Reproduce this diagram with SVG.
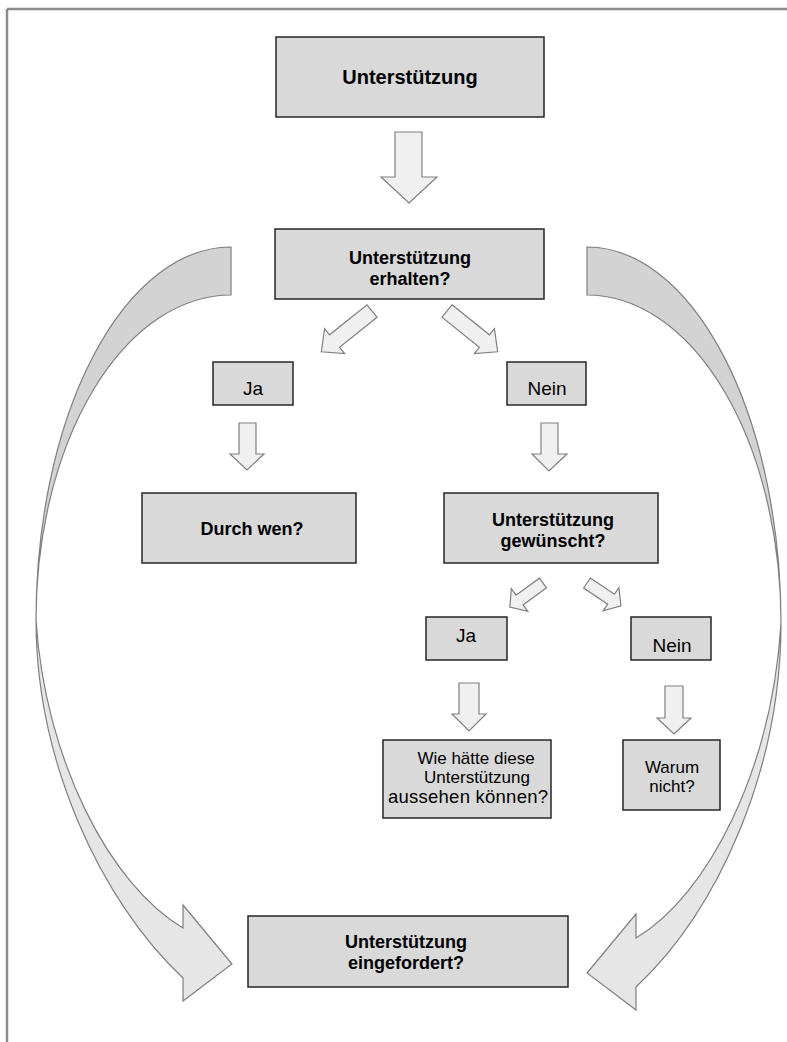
<svg xmlns="http://www.w3.org/2000/svg" width="787" height="1042" viewBox="0 0 787 1042">
  <style>
    .box { fill: #d9d9d9; stroke: #262626; stroke-width: 1.5; }
    .blk { fill: #f0f0f0; stroke: #7f7f7f; stroke-width: 1.2; stroke-linejoin: miter; }
    .back { fill: #d3d3d3; stroke: #7f7f7f; stroke-width: 1.2; }
    .front { fill: #e6e6e6; stroke: #7f7f7f; stroke-width: 1.2; }
    text { font-family: "Liberation Sans", Arial, sans-serif; fill: #000; text-anchor: middle; }
    .b { font-size: 18px; font-weight: bold; }
    .t { font-size: 20px; font-weight: bold; }
    .r { font-size: 17px; }
    .r18 { font-size: 18.5px; }
    .yn { font-size: 19px; }
  </style>
  <defs>
    <polygon id="diagBig" points="0,-8 48,-8 48,-16 65,0 48,16 48,8 0,8"/>
    <polygon id="diagSmall" points="0,-6 29,-6 29,-14 41,0 29,14 29,6 0,6"/>
  </defs>

  <!-- page frame -->
  <g id="frame" stroke="#8c8c8c" stroke-width="2.5" fill="none">
    <line x1="7" y1="9" x2="787" y2="9"/>
    <line x1="7" y1="9" x2="7" y2="1042"/>
  </g>

  <!-- connectors: block arrows and the two side loops -->
  <g id="connectors">
    <polygon class="blk" points="395,132 422,132 422,177 437,177 409,203 381,177 395,177"/>
    <use href="#diagBig" class="blk" transform="translate(372,311) rotate(141.2)"/>
    <use href="#diagBig" class="blk" transform="translate(447,311) rotate(38.8)"/>
    <polygon class="blk" points="239,423 256,423 256,454 264,454 247,470 230,454 239,454"/>
    <polygon class="blk" points="541,423 558,423 558,454 567,454 549,471 532,454 541,454"/>
    <use href="#diagSmall" class="blk" transform="translate(543,583) rotate(144)"/>
    <use href="#diagSmall" class="blk" transform="translate(587,583) rotate(34)"/>
    <polygon class="blk" points="459,683 479,683 479,714 486,714 469,731 452,714 459,714"/>
    <polygon class="blk" points="665,686 683,686 683,718 691,718 674,734 657,718 665,718"/>

    <!-- left loop -->
    <path class="back" d="M231,247 A195,373 0 0 0 36,620 A195,325 0 0 1 231,295 Z"/>
    <path class="front" d="M36,620 C36,760 100,900 183,978 L183,1001 L232,964 L183,905 L183,928 C110,885 45,760 36,620 Z"/>

    <!-- right loop -->
    <path class="back" d="M587,247 A194,376 0 0 1 781,623 A194,328 0 0 0 587,295 Z"/>
    <path class="front" d="M781,623 C781,770 718,910 636,987 L636,1010 L587,973 L636,914 L636,938 C708,895 772,770 781,623 Z"/>
  </g>

  <g id="n-start">
    <rect class="box" x="276" y="37" width="268" height="80"/>
    <text class="t" x="410" y="84">Unterstützung</text>
  </g>
  <g id="n-erhalten">
    <rect class="box" x="275" y="229" width="269" height="70"/>
    <text class="b" x="410" y="264">Unterstützung</text>
    <text class="b" x="410" y="285">erhalten?</text>
  </g>
  <g id="n-ja1">
    <rect class="box" x="213" y="362" width="80" height="43"/>
    <text class="yn" x="253" y="395">Ja</text>
  </g>
  <g id="n-nein1">
    <rect class="box" x="507" y="362" width="79" height="43"/>
    <text class="yn" x="547" y="395">Nein</text>
  </g>
  <g id="n-durch">
    <rect class="box" x="142" y="493" width="214" height="70"/>
    <text class="b" x="252" y="535">Durch wen?</text>
  </g>
  <g id="n-gewuenscht">
    <rect class="box" x="444" y="493" width="214" height="70"/>
    <text class="b" x="553" y="526">Unterstützung</text>
    <text class="b" x="553" y="547">gewünscht?</text>
  </g>
  <g id="n-ja2">
    <rect class="box" x="426" y="617" width="81" height="43"/>
    <text class="yn" x="466" y="642">Ja</text>
  </g>
  <g id="n-nein2">
    <rect class="box" x="631" y="617" width="80" height="43"/>
    <text class="yn" x="672" y="652">Nein</text>
  </g>
  <g id="n-wie">
    <rect class="box" x="383" y="740" width="168" height="78"/>
    <text class="r" x="476" y="764">Wie hätte diese</text>
    <text class="r" x="477" y="783">Unterstützung</text>
    <text class="r18" x="468" y="803" textLength="160" lengthAdjust="spacing">aussehen können?</text>
  </g>
  <g id="n-warum">
    <rect class="box" x="623" y="740" width="97" height="70"/>
    <text class="r" x="672" y="773">Warum</text>
    <text class="r" x="672" y="792">nicht?</text>
  </g>
  <g id="n-eingefordert">
    <rect class="box" x="248" y="916" width="320" height="71"/>
    <text class="b" x="406" y="948">Unterstützung</text>
    <text class="b" x="406" y="969">eingefordert?</text>
  </g>
</svg>
